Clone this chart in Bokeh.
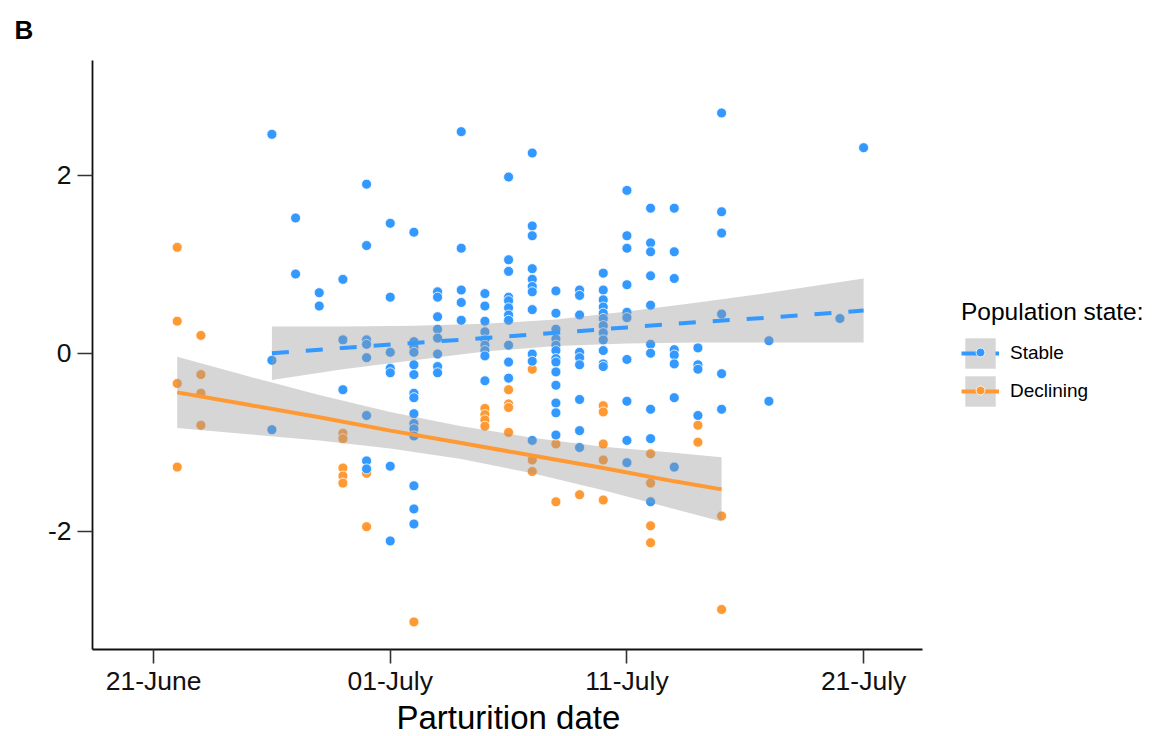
from bokeh.plotting import figure
from bokeh.models import Range1d, FixedTicker, Legend, LegendItem, Title
from bokeh.embed import file_html
from bokeh.resources import INLINE

FONT = "Liberation Sans"

# x = days after 21 June
x_tick_days = [0, 10, 20, 30]
x_tick_labels = ["21-June", "01-July", "11-July", "21-July"]
y_ticks = [-2, 0, 2]
y_tick_labels = ["-2", "0", "2"]

stable_days = [5, 6, 7, 8, 9, 10, 11, 12, 13, 14, 15, 16, 17, 18, 19, 20, 21, 22, 23, 24, 26, 29, 30]
stable_values = [
    [2.46, -0.08, -0.86],
    [1.52, 0.89],
    [0.68, 0.53],
    [0.83, 0.15, -0.41],
    [1.90, 1.21, 0.15, 0.10, -0.05, -0.70, -1.21, -1.30],
    [1.46, 0.63, 0.01, -0.17, -0.22, -1.27, -2.11],
    [1.36, 0.13, 0.07, 0.01, -0.13, -0.24, -0.45, -0.50, -0.68, -0.79, -0.85, -0.93, -1.49, -1.75, -1.92],
    [0.69, 0.63, 0.41, 0.27, 0.17, -0.01, -0.15, -0.22],
    [2.49, 1.18, 0.71, 0.57, 0.37],
    [0.67, 0.53, 0.36, 0.24, 0.15, 0.09, 0.03, -0.03, -0.31],
    [1.98, 1.05, 0.92, 0.63, 0.59, 0.51, 0.43, 0.37, 0.09, -0.10, -0.28],
    [2.25, 1.43, 1.32, 0.95, 0.83, 0.75, 0.69, 0.49, -0.01, -0.09, -0.98],
    [0.70, 0.45, 0.27, 0.16, 0.09, 0.03, -0.06, -0.10, -0.21, -0.36, -0.56, -0.67, -0.92],
    [0.71, 0.65, 0.43, 0.01, -0.05, -0.13, -0.52, -0.87, -1.06],
    [0.90, 0.71, 0.60, 0.52, 0.45, 0.39, 0.31, 0.23, 0.15, 0.03, -0.12, -0.15],
    [1.83, 1.32, 1.18, 0.77, 0.46, 0.40, -0.07, -0.54, -0.98, -1.23],
    [1.63, 1.24, 1.14, 0.87, 0.54, 0.10, 0.00, -0.63, -0.96, -1.67],
    [1.63, 1.14, 0.84, 0.04, -0.02, -0.12, -0.50, -1.28],
    [0.06, -0.13, -0.18, -0.70],
    [2.70, 1.59, 1.35, 0.44, -0.23, -0.63],
    [0.14, -0.54],
    [0.39],
    [2.31],
]

declining_days = [1, 2, 8, 9, 11, 14, 15, 16, 17, 18, 19, 21, 23, 24]
declining_values = [
    [1.19, 0.36, -0.34, -1.28],
    [0.20, -0.24, -0.45, -0.81],
    [-0.90, -0.96, -1.29, -1.38, -1.46],
    [-1.35, -1.95],
    [-3.02],
    [-0.62, -0.69, -0.75, -0.82],
    [-0.41, -0.57, -0.61, -0.89],
    [-0.18, -1.20, -1.33],
    [-1.02, -1.67],
    [-1.59],
    [-0.59, -0.66, -1.02, -1.20, -1.65],
    [-1.13, -1.46, -1.94, -2.13],
    [-0.81, -1.00],
    [-1.83, -2.88],
]

# fitted linear trends with 95% confidence bands
stable_fit_days = [5, 8, 11, 14, 17, 20, 23, 26, 30]
stable_fit = [0.00, 0.06, 0.115, 0.17, 0.23, 0.29, 0.35, 0.40, 0.48]
stable_lo = [-0.30, -0.18, -0.08, 0.02, 0.08, 0.11, 0.12, 0.12, 0.12]
stable_hi = [0.30, 0.30, 0.31, 0.33, 0.38, 0.47, 0.57, 0.68, 0.84]

declining_fit_days = [1, 4, 7, 10, 13, 16, 19, 22, 24]
declining_fit = [-0.44, -0.58, -0.72, -0.87, -1.01, -1.15, -1.29, -1.44, -1.53]
declining_lo = [-0.84, -0.91, -0.98, -1.07, -1.19, -1.35, -1.54, -1.75, -1.89]
declining_hi = [-0.04, -0.26, -0.47, -0.66, -0.82, -0.95, -1.05, -1.12, -1.17]

BLUE = "#3399FF"
ORANGE = "#FF9933"

X_START, X_AXIS_END, X_FRAME_END = -2.58, 32.49, 42.46
Y_START, Y_END = -3.33, 3.29


def flatten(days, values):
    xs, ys = [], []
    for d, vals in zip(days, values):
        for v in vals:
            xs.append(d)
            ys.append(v)
    return xs, ys


sx, sy = flatten(stable_days, stable_values)
dx, dy = flatten(declining_days, declining_values)

# the frame runs to the right edge so that the legend can sit inside it;
# the x axis itself is bounded to the panel area.
p = figure(frame_width=1066, frame_height=589, output_backend="svg", toolbar_location=None,
           x_range=Range1d(X_START, X_FRAME_END), y_range=Range1d(Y_START, Y_END),
           min_border_left=92, min_border_right=0, min_border_top=60, min_border_bottom=87)
p.outline_line_color = None
p.xgrid.visible = False
p.ygrid.visible = False
p.background_fill_color = "white"
p.border_fill_color = "white"

pts_d = p.scatter(dx, dy, size=10, fill_color=ORANGE, line_color="white", line_width=0.8)
pts_s = p.scatter(sx, sy, size=10, fill_color=BLUE, line_color="white", line_width=0.8)

band_s = p.varea(x=stable_fit_days, y1=stable_lo, y2=stable_hi, fill_color="#999999", fill_alpha=0.4)
line_s = p.line(stable_fit_days, stable_fit, line_color=BLUE, line_width=4, line_dash="17 17")
band_d = p.varea(x=declining_fit_days, y1=declining_lo, y2=declining_hi, fill_color="#999999", fill_alpha=0.4)
line_d = p.line(declining_fit_days, declining_fit, line_color=ORANGE, line_width=4)

for ax in (p.xaxis[0], p.yaxis[0]):
    ax.axis_line_color = "#111111"
    ax.axis_line_width = 1.8
    ax.major_tick_line_color = "#333333"
    ax.major_tick_line_width = 1.6
    ax.major_tick_in = 0
    ax.minor_tick_line_color = None
    ax.major_label_text_font = FONT
    ax.major_label_text_font_size = "26.5px"
    ax.major_label_text_color = "#111111"

xa = p.xaxis[0]
xa.bounds = (X_START, X_AXIS_END)
xa.ticker = FixedTicker(ticks=x_tick_days)
xa.major_label_overrides = dict(zip(x_tick_days, x_tick_labels))
xa.major_tick_out = 14
xa.major_label_standoff = 2

ya = p.yaxis[0]
ya.ticker = FixedTicker(ticks=y_ticks)
ya.major_label_overrides = dict(zip(y_ticks, y_tick_labels))
ya.major_tick_out = 15
ya.major_label_standoff = 6

# x axis title, centred under the bounded axis (not the wider frame)
x_title = Title(text="Parturition date", text_font=FONT, text_font_size="33px",
                text_font_style="normal", text_color="#000000",
                align="left", vertical_align="top", offset=304, standoff=0)
p.add_layout(x_title, "below")

p.title.text = "B"
p.title.text_font = FONT
p.title.text_font_size = "26px"
p.title.text_font_style = "bold"
p.title.text_color = "#000000"
p.title.align = "left"
p.title.vertical_align = "top"
p.title.offset = -78
p.title.standoff = 28

# main legend: grey band + line keys, labels and title
legend = Legend(items=[
    LegendItem(label="Stable", renderers=[band_s, line_s]),
    LegendItem(label="Declining", renderers=[band_d, line_d]),
], location=(869, 239))
legend.title = "Population state:"
legend.title_text_font = FONT
legend.title_text_font_size = "24.5px"
legend.title_text_font_style = "normal"
legend.title_text_color = "#000000"
legend.title_standoff = 8
legend.label_text_font = FONT
legend.label_text_font_size = "19px"
legend.label_text_color = "#000000"
legend.label_standoff = 11
legend.glyph_width = 38
legend.glyph_height = 38
legend.label_height = 38
legend.spacing = 0
legend.padding = 0
legend.margin = 0
legend.border_line_color = None
legend.background_fill_alpha = 0
p.add_layout(legend)

# point keys drawn on top at ggplot's smaller dot size
dots = Legend(items=[
    LegendItem(label="", renderers=[pts_s]),
    LegendItem(label="", renderers=[pts_d]),
], location=(877, 248))
dots.glyph_width = 22
dots.glyph_height = 22
dots.label_height = 22
dots.label_width = 0
dots.label_standoff = 0
dots.label_text_font_size = "1px"
dots.spacing = 16
dots.padding = 0
dots.margin = 0
dots.border_line_color = None
dots.background_fill_alpha = 0
p.add_layout(dots)

open("out.html", "w").write(file_html(p, INLINE))
